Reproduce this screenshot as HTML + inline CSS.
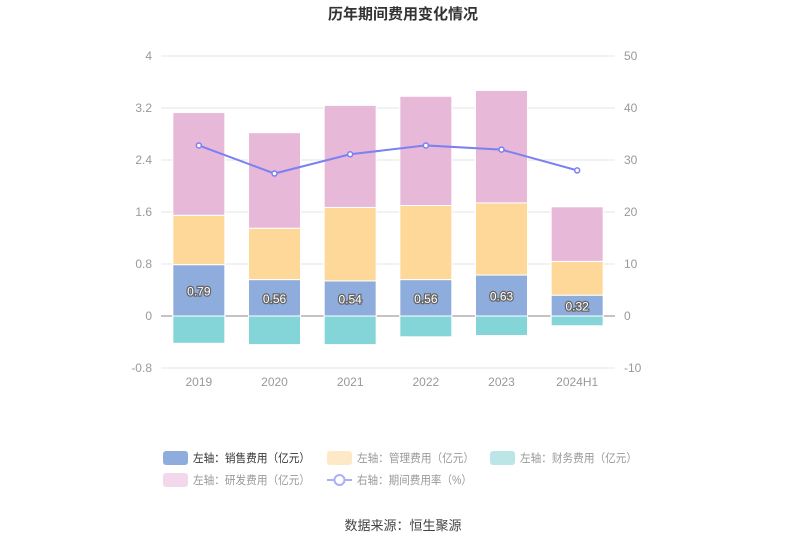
<!DOCTYPE html>
<html><head><meta charset="utf-8"><style>
body{margin:0;background:#fff;font-family:"Liberation Sans","Noto Sans CJK SC",sans-serif;}
svg text{font-family:"Liberation Sans","Noto Sans CJK SC",sans-serif;}
</style></head><body>
<svg id="c" width="807" height="546" xmlns="http://www.w3.org/2000/svg">
<text x="403" y="19" text-anchor="middle" font-size="15" font-weight="bold" fill="#333">历年期间费用变化情况</text>
<g id="grid"></g><g id="bars"></g><g id="line"></g><g id="legend"></g>
<text x="403" y="530" text-anchor="middle" font-size="13" fill="#444">数据来源：恒生聚源</text>
</svg>
<script>
const categories=["2019","2020","2021","2022","2023","2024H1"];
const sales=[0.79,0.56,0.54,0.56,0.63,0.32];
const admin=[0.76,0.79,1.13,1.14,1.11,0.52];
const finance=[-0.42,-0.44,-0.44,-0.32,-0.30,-0.15];
const rnd=[1.58,1.47,1.57,1.68,1.73,0.84];
const rate=[32.8,27.4,31.1,32.8,32.0,28.0];
const leftTicks=[-0.8,0,0.8,1.6,2.4,3.2,4];
const rightTicks=[-10,0,10,20,30,40,50];
const NS="http://www.w3.org/2000/svg";
const X0=161,X1=615,Y0=368,Y1=56;
const yL=v=>Y0-(v+0.8)/4.8*(Y0-Y1);
const yR=v=>Y0-(v+10)/60*(Y0-Y1);
const bw=(X1-X0)/categories.length;
const xC=i=>X0+bw*(i+0.5);
function mk(t,a,p){const e=document.createElementNS(NS,t);for(const k in a)e.setAttribute(k,a[k]);p.appendChild(e);return e;}
const g=document.getElementById('grid');
leftTicks.forEach((t,i)=>{
 const y=yL(t);
 const l=mk('line',{x1:X0,x2:X1,y1:y,y2:y,stroke:t===0?'#888':'#e6e6e6'},g);
 
 
 const a=mk('text',{x:152,y:y+4,'text-anchor':'end','font-size':12,fill:'#999'},g);a.textContent=String(t);
 
 
 const b=mk('text',{x:624,y:yR(rightTicks[i])+4,'font-size':12,fill:'#999'},g);b.textContent=String(rightTicks[i]);
 
 
});
categories.forEach((c,i)=>{
 const t=mk('text',{x:xC(i),y:386,'text-anchor':'middle','font-size':12,fill:'#999'},g);t.textContent=c;
 
 
});
const bg=document.getElementById('bars');
const W=52;
function rect(x,y1,y2,fill,name){const r=mk('rect',{x:x-W/2,y:Math.min(y1,y2),width:W,height:Math.abs(y2-y1),fill:fill,stroke:'#fff','stroke-width':1},bg);
 
 }
categories.forEach((c,i)=>{
 const x=xC(i);
 rect(x,yL(0),yL(finance[i]),'#84d5d8','bar-finance-'+c);
 rect(x,yL(0),yL(sales[i]),'#8eaddd','bar-sales-'+c);
 rect(x,yL(sales[i]),yL(sales[i]+admin[i]),'#fed899','bar-admin-'+c);
 rect(x,yL(sales[i]+admin[i]),yL(sales[i]+admin[i]+rnd[i]),'#e7b8d8','bar-rnd-'+c);
 const t=mk('text',{x:x,y:(yL(0)+yL(sales[i]))/2+5,'text-anchor':'middle','font-size':12,fill:'#fff',stroke:'#666','stroke-width':2.5,'paint-order':'stroke'},bg);
 t.textContent=sales[i].toFixed(2);
 
 
});
const lg=document.getElementById('line');
const pts=rate.map((v,i)=>xC(i)+','+yR(v)).join(' ');
const pl=mk('polyline',{points:pts,fill:'none',stroke:'#7b80f2','stroke-width':2},lg);


rate.forEach((v,i)=>{const c=mk('circle',{cx:xC(i),cy:yR(v),r:2.5,fill:'#fff',stroke:'#7b80f2','stroke-width':1.5},lg);
 
 });
const L=document.getElementById('legend');
const items=[["左轴：销售费用（亿元）",'#8eaddd',163,458,'#333'],["左轴：管理费用（亿元）",'#fde9c6',327,458,'#999'],["左轴：财务费用（亿元）",'#bbe6e8',490,458,'#999'],["左轴：研发费用（亿元）",'#f2d8ea',163,480,'#999']];
items.forEach(it=>{
 const gi=mk('g',{},L);
 
 
 mk('rect',{x:it[2],y:it[3]-7,width:25,height:14,rx:3,fill:it[1]},gi);
 const t=mk('text',{x:it[2]+30,y:it[3]+4,'font-size':11.5,fill:it[4],textLength:117,lengthAdjust:'spacingAndGlyphs'},gi);t.textContent=it[0];
});
const gl=mk('g',{},L);


mk('line',{x1:327,x2:352,y1:480,y2:480,stroke:'#aab0f5','stroke-width':2},gl);
mk('circle',{cx:339.5,cy:480,r:5,fill:'#fff',stroke:'#aab0f5','stroke-width':2},gl);
const lt=mk('text',{x:357,y:484,'font-size':11.5,fill:'#999',textLength:115,lengthAdjust:'spacingAndGlyphs'},gl);lt.textContent="右轴：期间费用率（%）";
</script>
</body></html>
